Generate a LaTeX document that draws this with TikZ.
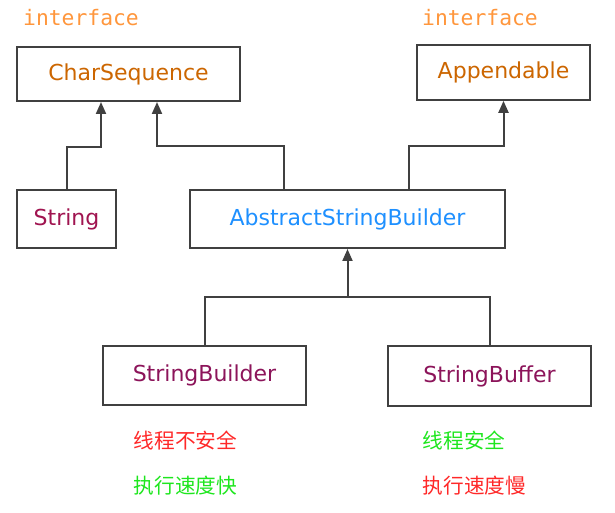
\documentclass[tikz,border=0pt]{standalone}
\usepackage{fontspec}
\setmainfont{DejaVu Sans}
\newfontfamily\monofont{DejaVu Sans Mono}
\newfontfamily\cjkfont{Noto Sans CJK SC}
\usetikzlibrary{arrows.meta,positioning}
\usepackage{xcolor}
\definecolor{lineGray}{RGB}{64,64,64}
\definecolor{ifaceOrange}{RGB}{255,150,60}
\definecolor{nameOrange}{RGB}{204,102,0}
\definecolor{strMaroon}{RGB}{160,20,80}
\definecolor{asbBlue}{RGB}{30,144,255}
\definecolor{sbPurple}{RGB}{140,20,90}
\definecolor{noteRed}{RGB}{255,40,40}
\definecolor{noteGreen}{RGB}{30,230,30}

\begin{document}
\begin{tikzpicture}[x=0.75pt,y=-0.75pt,
  cls/.style={draw=lineGray,line width=1.5pt,fill=white,font=\fontsize{16.5}{18}\selectfont,inner sep=0pt},
  iface/.style={font=\monofont\fontsize{16}{18}\selectfont,text=ifaceOrange},
  note/.style={font=\cjkfont\fontsize{15.5}{18}\selectfont,anchor=west},
  link/.style={draw=lineGray,line width=1.5pt},
  arr/.style={link,-{Triangle[width=7.5pt,length=9pt]}}]
\useasboundingbox (0,0) rectangle (615,513);

\node[iface] (i1) at (81,18) {interface};
\node[iface] (i2) at (480,18) {interface};

\node[cls,minimum width=167pt,minimum height=40.5pt,text=nameOrange] (cs) at (128.5,74) {CharSequence};
\node[cls,minimum width=130pt,minimum height=41pt,text=nameOrange] (app) at (503.5,72.5) {Appendable};
\node[cls,minimum width=74pt,minimum height=43.5pt,text=strMaroon] (str) at (66.5,219) {String};
\node[cls,minimum width=236pt,minimum height=43.5pt,text=asbBlue] (asb) at (347.5,219) {AbstractStringBuilder};
\node[cls,minimum width=152pt,minimum height=44pt,text=sbPurple] (sb) at (204.5,375.5) {StringBuilder};
\node[cls,minimum width=152pt,minimum height=45pt,text=sbPurple] (sbf) at (489.5,376) {StringBuffer};

\coordinate (b1) at (101,147);
\coordinate (b2) at (157,146);
\coordinate (b3) at (284,146);
\coordinate (b4) at (409,146);
\coordinate (b6) at (347.5,297);

\draw[arr] (str.north) |- (b1) -- (b1 |- cs.south);
\draw[arr] (b3 |- asb.north) -- (b3) -| (cs.south -| b2);
\draw[arr] (b4 |- asb.north) -- (b4) -| (app.south);
\draw[arr] (sb.north) |- (b6) -- (asb.south);
\draw[link] (sbf.north) |- (b6);

\node[note,text=noteRed] (n1) at (129,441) {线程不安全};
\node[note,text=noteGreen] (n2) at (129,486) {执行速度快};
\node[note,text=noteGreen] (n3) at (418,441) {线程安全};
\node[note,text=noteRed] (n4) at (418,486) {执行速度慢};
\end{tikzpicture}
\end{document}
